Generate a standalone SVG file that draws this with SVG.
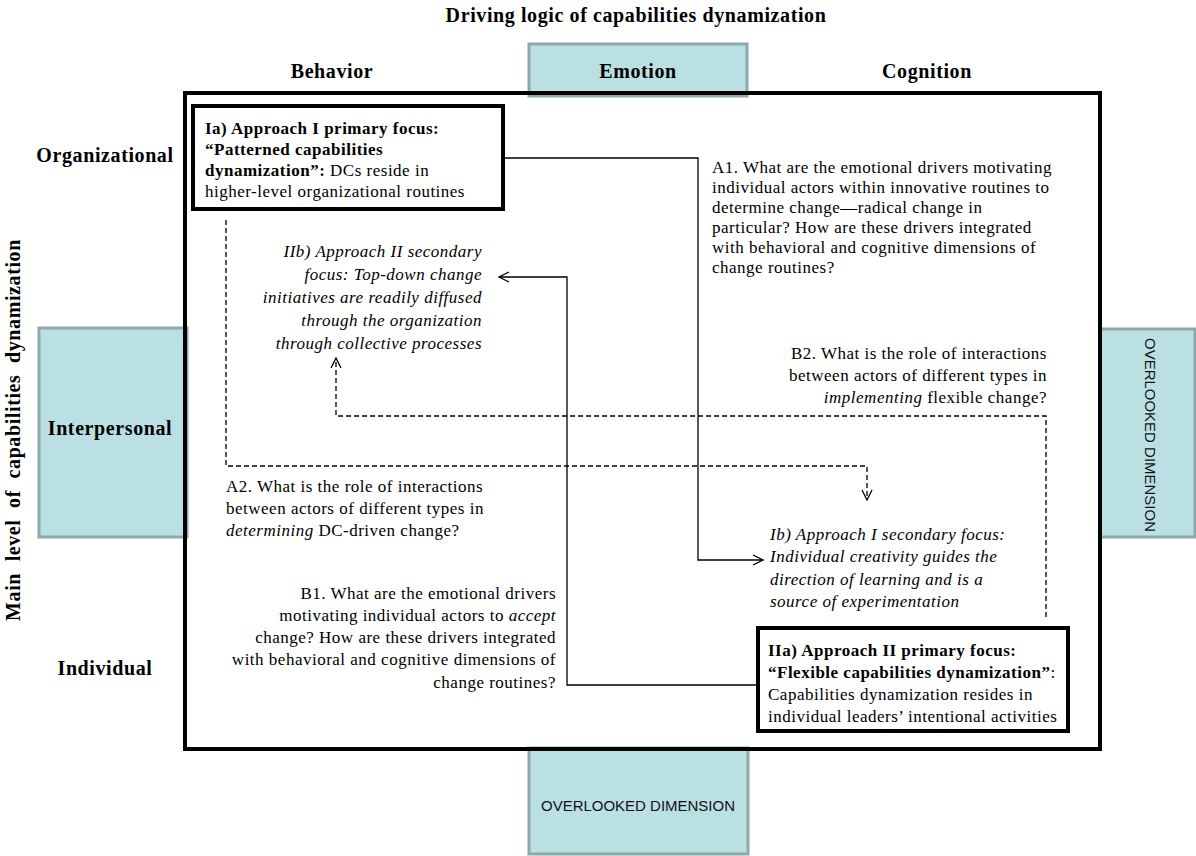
<svg xmlns="http://www.w3.org/2000/svg" width="1196" height="856" viewBox="0 0 1196 856">
<defs>
<style>
.t{font-family:"Liberation Serif","Times New Roman",serif;font-size:17px;letter-spacing:0.5px;fill:#000}
.b{font-weight:bold}
.i{font-style:italic}
.h{font-family:"Liberation Serif","Times New Roman",serif;font-size:20px;font-weight:bold;letter-spacing:0.6px;fill:#000}
.ov{font-family:"Liberation Sans",Arial,sans-serif;font-size:15px;fill:#111}
.blue{fill:#BBE0E4;stroke:#8DA8AB;stroke-width:3}
.frame{fill:none;stroke:#000;stroke-width:4}
.nb{fill:#fff;stroke:#000;stroke-width:4}
.c{fill:none;stroke:#000;stroke-width:1.3}
.d{fill:none;stroke:#000;stroke-width:1.3;stroke-dasharray:5 3}
</style>
<marker id="ah" viewBox="0 0 12 12" refX="11" refY="6" markerWidth="12" markerHeight="12" markerUnits="userSpaceOnUse" orient="auto">
<path d="M1,1 L11,6 L1,11" fill="none" stroke="#000" stroke-width="1.3"/>
</marker>
</defs>
<rect width="1196" height="856" fill="#fff"/>

<g id="title">
<text class="h" x="636" y="22" text-anchor="middle">Driving logic of capabilities dynamization</text>
<text class="h" x="20" y="430" text-anchor="middle" transform="rotate(-90 20 430)" word-spacing="6">Main level of capabilities dynamization</text>
</g>

<g id="emotion">
<rect class="blue" x="529" y="44" width="218" height="52"/>
<text class="h" x="638" y="78" text-anchor="middle">Emotion</text>
</g>
<g id="behavior"><text class="h" x="332" y="78" text-anchor="middle">Behavior</text></g>
<g id="cognition"><text class="h" x="927" y="78" text-anchor="middle">Cognition</text></g>

<g id="interpersonal">
<rect class="blue" x="39" y="328" width="148" height="209"/>
<text class="h" x="110" y="435" text-anchor="middle">Interpersonal</text>
</g>
<g id="organizational"><text class="h" x="105" y="162" text-anchor="middle">Organizational</text></g>
<g id="individual"><text class="h" x="105" y="675" text-anchor="middle">Individual</text></g>

<g id="overlooked-right">
<rect class="blue" x="1100" y="329" width="95" height="208"/>
<text class="ov" x="1145" y="435" text-anchor="middle" transform="rotate(90 1145 435)" textLength="194" lengthAdjust="spacingAndGlyphs">OVERLOOKED DIMENSION</text>
</g>
<g id="overlooked-bottom">
<rect class="blue" x="529" y="748" width="219" height="106"/>
<text class="ov" x="638" y="811" text-anchor="middle" textLength="194" lengthAdjust="spacingAndGlyphs">OVERLOOKED DIMENSION</text>
</g>

<g id="frame"><rect class="frame" x="185" y="93" width="915" height="656"/></g>

<g id="connectors">
<polyline class="c" points="503,158 698,158 698,560 763,560" marker-end="url(#ah)"/>
<polyline class="c" points="758,685 567,685 567,277 499,277" marker-end="url(#ah)"/>
<polyline class="d" points="226,220 226,466 867,466 867,500" marker-end="url(#ah)"/>
<polyline class="d" points="1046,617 1046,416 336,416 336,358" marker-end="url(#ah)"/>
</g>

<g id="Ia">
<rect class="nb" x="193" y="106" width="310" height="103"/>
<text class="t" x="205" y="134"><tspan class="b">Ia) Approach I primary focus:</tspan></text>
<text class="t" x="205" y="155"><tspan class="b">“Patterned capabilities</tspan></text>
<text class="t" x="205" y="176"><tspan class="b">dynamization”:</tspan> DCs reside in</text>
<text class="t" x="205" y="197">higher-level organizational routines</text>
</g>

<g id="A1">
<text class="t" x="712" y="173">A1. What are the emotional drivers motivating</text>
<text class="t" x="712" y="193">individual actors within innovative routines to</text>
<text class="t" x="712" y="213">determine change—radical change in</text>
<text class="t" x="712" y="233">particular? How are these drivers integrated</text>
<text class="t" x="712" y="253">with behavioral and cognitive dimensions of</text>
<text class="t" x="712" y="273">change routines?</text>
</g>

<g id="IIb">
<text class="t i" x="482" y="257" text-anchor="end">IIb) Approach II secondary</text>
<text class="t i" x="482" y="280" text-anchor="end">focus: Top-down change</text>
<text class="t i" x="482" y="303" text-anchor="end">initiatives are readily diffused</text>
<text class="t i" x="482" y="326" text-anchor="end">through the organization</text>
<text class="t i" x="482" y="349" text-anchor="end">through collective processes</text>
</g>

<g id="B2">
<text class="t" x="1047" y="359" text-anchor="end">B2. What is the role of interactions</text>
<text class="t" x="1047" y="381" text-anchor="end">between actors of different types in</text>
<text class="t" x="1047" y="403" text-anchor="end"><tspan class="i">implementing</tspan> flexible change?</text>
</g>

<g id="A2">
<text class="t" x="226" y="492">A2. What is the role of interactions</text>
<text class="t" x="226" y="514">between actors of different types in</text>
<text class="t" x="226" y="536"><tspan class="i">determining</tspan> DC-driven change?</text>
</g>

<g id="Ib">
<text class="t i" x="770" y="540">Ib) Approach I secondary focus:</text>
<text class="t i" x="770" y="562">Individual creativity guides the</text>
<text class="t i" x="770" y="585">direction of learning and is a</text>
<text class="t i" x="770" y="607">source of experimentation</text>
</g>

<g id="B1">
<text class="t" x="556" y="599" text-anchor="end">B1. What are the emotional drivers</text>
<text class="t" x="556" y="621" text-anchor="end">motivating individual actors to <tspan class="i">accept</tspan></text>
<text class="t" x="556" y="643" text-anchor="end">change? How are these drivers integrated</text>
<text class="t" x="556" y="665" text-anchor="end">with behavioral and cognitive dimensions of</text>
<text class="t" x="556" y="688" text-anchor="end">change routines?</text>
</g>

<g id="IIa">
<rect class="nb" x="758" y="628" width="310" height="103"/>
<text class="t" x="768" y="656"><tspan class="b">IIa) Approach II primary focus:</tspan></text>
<text class="t" x="768" y="678"><tspan class="b">“Flexible capabilities dynamization”</tspan>:</text>
<text class="t" x="768" y="700">Capabilities dynamization resides in</text>
<text class="t" x="768" y="722">individual leaders’ intentional activities</text>
</g>
</svg>
